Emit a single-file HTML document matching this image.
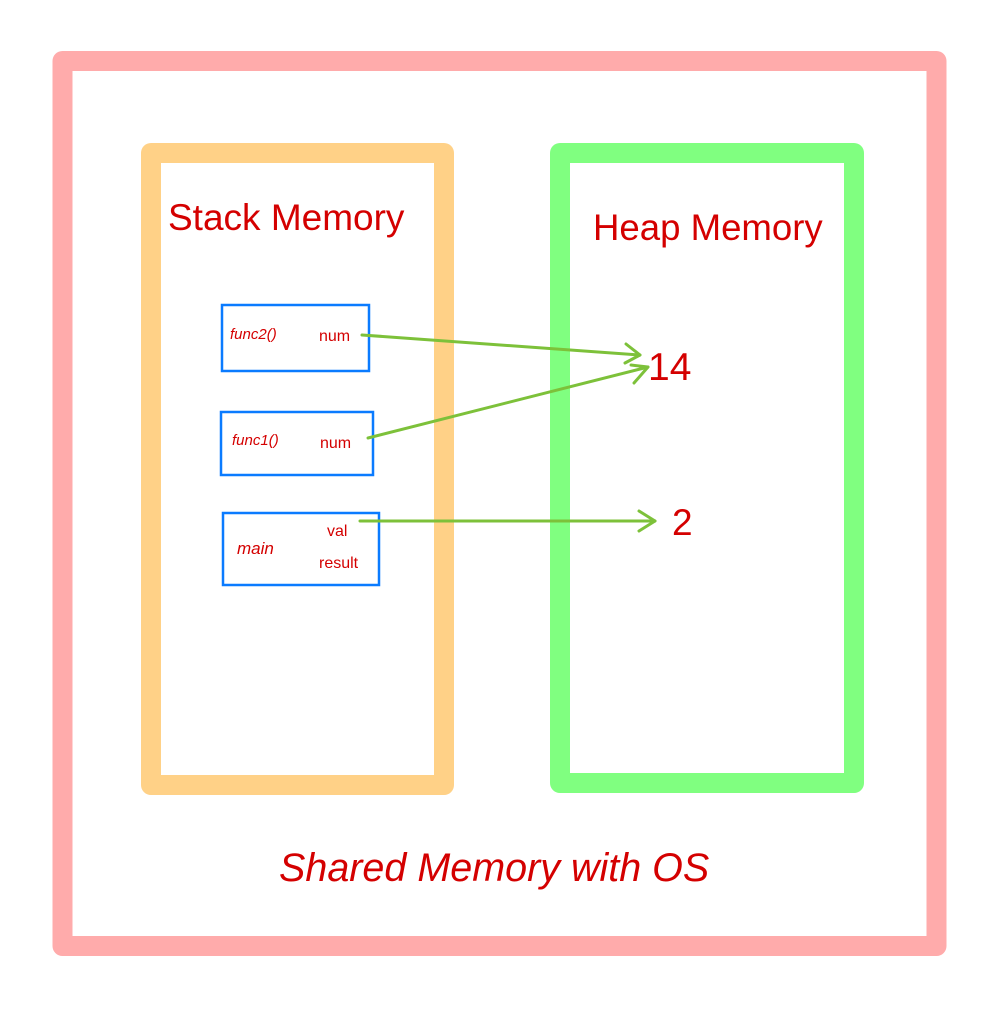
<!DOCTYPE html>
<html><head><style>body{margin:0;background:#fff}svg{display:block}</style></head><body>
<svg width="1000" height="1012" xmlns="http://www.w3.org/2000/svg" font-family="Liberation Sans, sans-serif">
<rect x="62.5" y="61" width="874" height="885" fill="none" stroke="#ffabab" stroke-width="20" stroke-linejoin="round"/>
<rect x="151" y="153" width="293" height="632" fill="none" stroke="#ffd187" stroke-width="20" stroke-linejoin="round"/>
<rect x="560" y="153" width="294" height="630" fill="none" stroke="#80ff80" stroke-width="20" stroke-linejoin="round"/>
<g fill="none" stroke="#0a7bff" stroke-width="2.5">
<rect x="222" y="305" width="147" height="66"/>
<rect x="221" y="412" width="152" height="63"/>
<rect x="223" y="513" width="156" height="72"/>
</g>
<g fill="#d40000">
<text x="168" y="230" font-size="37">Stack Memory</text>
<text x="593" y="240" font-size="36.6">Heap Memory</text>
<text x="279" y="881" font-size="39.5" font-style="italic">Shared Memory with OS</text>
<text x="648" y="380" font-size="39">14</text>
<text x="672" y="535" font-size="37">2</text>
<text x="230" y="339" font-size="15" font-style="italic">func2()</text>
<text x="319" y="341" font-size="16">num</text>
<text x="232" y="445" font-size="15" font-style="italic">func1()</text>
<text x="320" y="448" font-size="16">num</text>
<text x="237" y="554" font-size="17" font-style="italic">main</text>
<text x="327" y="536" font-size="16">val</text>
<text x="319" y="568" font-size="16">result</text>
</g>
<g fill="none" stroke="#7dc13a" stroke-width="3" stroke-linecap="round" stroke-linejoin="round">
<line x1="362" y1="335" x2="640" y2="355"/>
<polyline points="626,344 640,355 625,363"/>
<line x1="368" y1="438" x2="648" y2="367"/>
<polyline points="631,365 648,367 634,383"/>
<line x1="360" y1="521" x2="655" y2="521"/>
<polyline points="639,511 655,521 639,531"/>
</g>
</svg>
</body></html>
